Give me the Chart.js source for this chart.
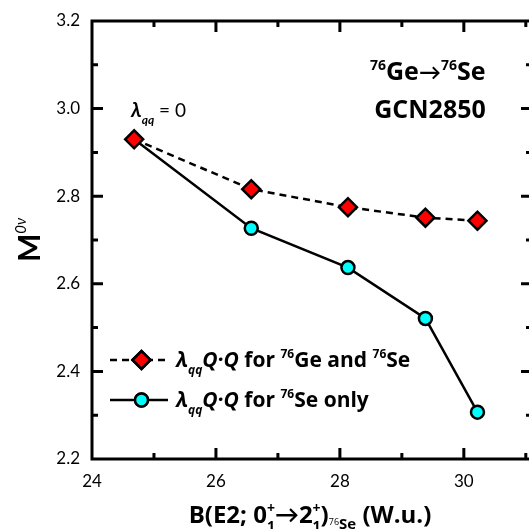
<!DOCTYPE html>
<html>
<head>
<meta charset="utf-8">
<script src="https://cdn.jsdelivr.net/npm/chart.js@4.4.1/dist/chart.umd.min.js"></script>
<style>
  html, body { margin: 0; padding: 0; overflow: hidden; background: #fff; }
  #wrap { width: 529px; height: 529px; overflow: hidden; }
  canvas { display: block; }
</style>
</head>
<body>
<div id="wrap"><canvas id="m0vChart" width="529" height="529"></canvas></div>
<script>
    // B(E2) values (W.u.) and matrix elements
    const bE2 = [24.68, 26.57, 28.13, 29.38, 30.22];
    const mGeAndSe = [2.930, 2.816, 2.775, 2.751, 2.744];
    const mSeOnly = [2.930, 2.727, 2.637, 2.521, 2.307];
    const yTicks = [2.2, 2.4, 2.6, 2.8, 3.0, 3.2];
    const xTicks = [24, 26, 28, 30];

    const FONT = 'Lato, "Open Sans", sans-serif';
    const BFONT = '"Open Sans", Lato, sans-serif';
    const ctx = document.getElementById('m0vChart').getContext('2d');

    // draws text pieces one after another; a piece is [text, font, dy] or {sup, sub, font, up, down}
    function rich(c, x, y, parts, measureOnly) {
        const x0 = x;
        for (const p of parts) {
            if (Array.isArray(p)) {
                c.font = p[1];
                if (!measureOnly) c.fillText(p[0], x, y + (p[2] || 0));
                x += c.measureText(p[0]).width;
            } else {
                c.font = p.font;
                if (!measureOnly) {
                    c.fillText(p.sup, x, y + p.up);
                    c.fillText(p.sub, x, y + p.down);
                }
                x += Math.max(c.measureText(p.sup).width, c.measureText(p.sub).width);
            }
        }
        return x - x0;
    }

    // the original frame runs a little past the right edge of the picture
    const areaPlugin = {
        id: 'area',
        afterLayout(chart) {
            const xs = chart.scales.x;
            xs.left = 92;
            xs.right = 532;
            xs.width = xs.right - xs.left;
            xs.configure();
            chart.chartArea.left = 92;
            chart.chartArea.right = 532;
            chart.chartArea.width = 440;
        }
    };

    const framePlugin = {
        id: 'frame',
        afterDraw(chart) {
            const c = chart.ctx;
            const a = chart.chartArea;
            const xs = chart.scales.x, ys = chart.scales.y;
            c.save();
            c.strokeStyle = '#000';
            c.fillStyle = '#000';
            c.lineWidth = 3;
            c.lineCap = 'butt';
            // frame
            c.beginPath();
            c.moveTo(a.left, a.top - 1.5); c.lineTo(a.left, a.bottom + 1.5);
            c.moveTo(a.left - 1.5, a.bottom); c.lineTo(a.right + 1.5, a.bottom);
            c.moveTo(a.left - 1.5, a.top); c.lineTo(a.right + 1.5, a.top);
            c.moveTo(a.right, a.top); c.lineTo(a.right, a.bottom);
            c.stroke();
            // inward ticks
            c.beginPath();
            for (let v = 25; v <= 31; v++) {
                const px = xs.getPixelForValue(v);
                const len = v % 2 === 0 ? 11 : 6;
                c.moveTo(px, a.bottom); c.lineTo(px, a.bottom - len);
                c.moveTo(px, a.top); c.lineTo(px, a.top + len);
            }
            for (let i = 1; i < 10; i++) {
                const py = ys.getPixelForValue(2.2 + i * 0.1);
                const len = i % 2 === 0 ? 11 : 6;
                c.moveTo(a.left, py); c.lineTo(a.left + len, py);
                c.moveTo(a.right, py); c.lineTo(a.right - len, py);
            }
            c.stroke();

            // annotations
            c.textAlign = 'left';
            c.textBaseline = 'alphabetic';
            rich(c, 370, 80, [
                ['76', 'bold 14px ' + BFONT, -10],
                ['Ge', 'bold 25px ' + BFONT],
                ['\u2192', 'bold 22px ' + FONT],
                ['76', 'bold 14px ' + BFONT, -10],
                ['Se', 'bold 25px ' + BFONT]
            ]);
            c.textAlign = 'center';
            c.font = 'bold 25px ' + BFONT;
            c.fillText('GCN2850', 430, 118);
            c.textAlign = 'left';
            rich(c, 131, 117, [
                ['\u03bb', 'bold italic 21px ' + FONT],
                ['qq', 'bold italic 12px ' + FONT, 7],
                [' = 0', '19px ' + FONT]
            ]);

            // legend
            const rows = [
                { y: 360, dash: [7, 5], ds: chart.data.datasets[1], tail: [['76', 'bold 12px ' + BFONT, -9], ['Ge and ', 'bold 21px ' + BFONT], ['76', 'bold 12px ' + BFONT, -9], ['Se', 'bold 21px ' + BFONT]] },
                { y: 400, dash: [], ds: chart.data.datasets[0], tail: [['76', 'bold 12px ' + BFONT, -9], ['Se only', 'bold 21px ' + BFONT]] }
            ];
            for (const r of rows) {
                c.lineWidth = 2.5;
                c.setLineDash(r.dash);
                c.beginPath(); c.moveTo(110, r.y); c.lineTo(168, r.y); c.stroke();
                c.setLineDash([]);
                Chart.helpers.drawPoint(c, {
                    pointStyle: r.ds.pointStyle,
                    radius: r.ds.legendRadius,
                    borderWidth: 2.5
                }, 141.5, r.y);
                c.fillStyle = r.ds.pointBackgroundColor;
                c.strokeStyle = '#000';
                c.fill(); c.stroke();
                c.fillStyle = '#000';
                rich(c, 176, r.y + 7, [
                    ['\u03bb', 'bold italic 21px ' + BFONT],
                    ['qq', 'bold italic 12px ' + BFONT, 7],
                    ['Q\u00b7Q', 'bold italic 21px ' + BFONT],
                    [' for ', 'bold 21px ' + BFONT]
                ].concat(r.tail));
            }

            // x-axis title
            const title = [
                ['B(E2; 0', 'bold 24px ' + BFONT],
                { sup: '+', sub: '1', font: 'bold 14px ' + BFONT, up: -10, down: 8 },
                ['\u2192', 'bold 24px ' + FONT],
                ['2', 'bold 24px ' + BFONT],
                { sup: '+', sub: '1', font: 'bold 14px ' + BFONT, up: -10, down: 8 },
                [')', 'bold 24px ' + BFONT],
                ['76', '9px ' + BFONT, 2],
                ['Se', 'bold 15px ' + BFONT, 6],
                [' (W.u.)', 'bold 24px ' + BFONT]
            ];
            const tw = rich(c, 0, 0, title, true);
            rich(c, 310 - tw / 2, 523, title);

            // y-axis title
            c.translate(40, 262);
            c.rotate(-Math.PI / 2);
            rich(c, 0, 0, [
                ['M', 'bold 30px ' + FONT],
                ['0\u03bd', 'italic 15px ' + FONT, -14]
            ]);
            c.restore();
        }
    };

    const m0vChart = new Chart(ctx, {
        type: 'scatter',
        data: {
            datasets: [{
                label: 'λqq Q·Q for 76Se only',
                data: bE2.map((x, i) => ({ x: x, y: mSeOnly[i] })),
                showLine: true,
                borderColor: '#000',
                borderWidth: 2.5,
                pointStyle: 'circle',
                pointRadius: [0, 6.5, 6.5, 6.5, 6.5],
                legendRadius: 6.5,
                pointBackgroundColor: '#00ffff',
                pointBorderColor: '#000',
                pointBorderWidth: 2.5,
                order: 1
            }, {
                label: 'λqq Q·Q for 76Ge and 76Se',
                data: bE2.map((x, i) => ({ x: x, y: mGeAndSe[i] })),
                showLine: true,
                borderColor: '#000',
                borderWidth: 2.5,
                borderDash: [7, 5],
                pointStyle: 'rectRot',
                pointRadius: 9,
                legendRadius: 9,
                pointBackgroundColor: '#ff0000',
                pointBorderColor: '#000',
                pointBorderWidth: 2.5,
                order: 0
            }]
        },
        options: {
            responsive: false,
            animation: false,
            devicePixelRatio: 1,
            layout: { autoPadding: false, padding: { top: 21, right: 0, left: 0, bottom: 0 } },
            plugins: { legend: { display: false }, tooltip: { enabled: false } },
            scales: {
                x: {
                    type: 'linear',
                    min: 24,
                    max: 31.1,
                    afterFit: s => { s.height = 70; s.paddingLeft = 0; s.paddingRight = 0; },
                    afterBuildTicks: s => { s.ticks = xTicks.map(v => ({ value: v })); },
                    grid: { display: false, drawTicks: false, tickLength: 0 },
                    border: { display: false },
                    ticks: { padding: 12, color: '#000', font: { family: FONT, size: 17 } }
                },
                y: {
                    min: 2.2,
                    max: 3.2,
                    afterFit: s => { s.width = 92; s.paddingTop = 0; s.paddingBottom = 0; },
                    afterBuildTicks: s => { s.ticks = yTicks.map(v => ({ value: v })); },
                    grid: { display: false, drawTicks: false, tickLength: 0 },
                    border: { display: false },
                    ticks: {
                        padding: 12,
                        color: '#000',
                        font: { family: FONT, size: 17 },
                        callback: v => Number(v).toFixed(1)
                    }
                }
            }
        },
        plugins: [areaPlugin, framePlugin]
    });
</script>
</body>
</html>
